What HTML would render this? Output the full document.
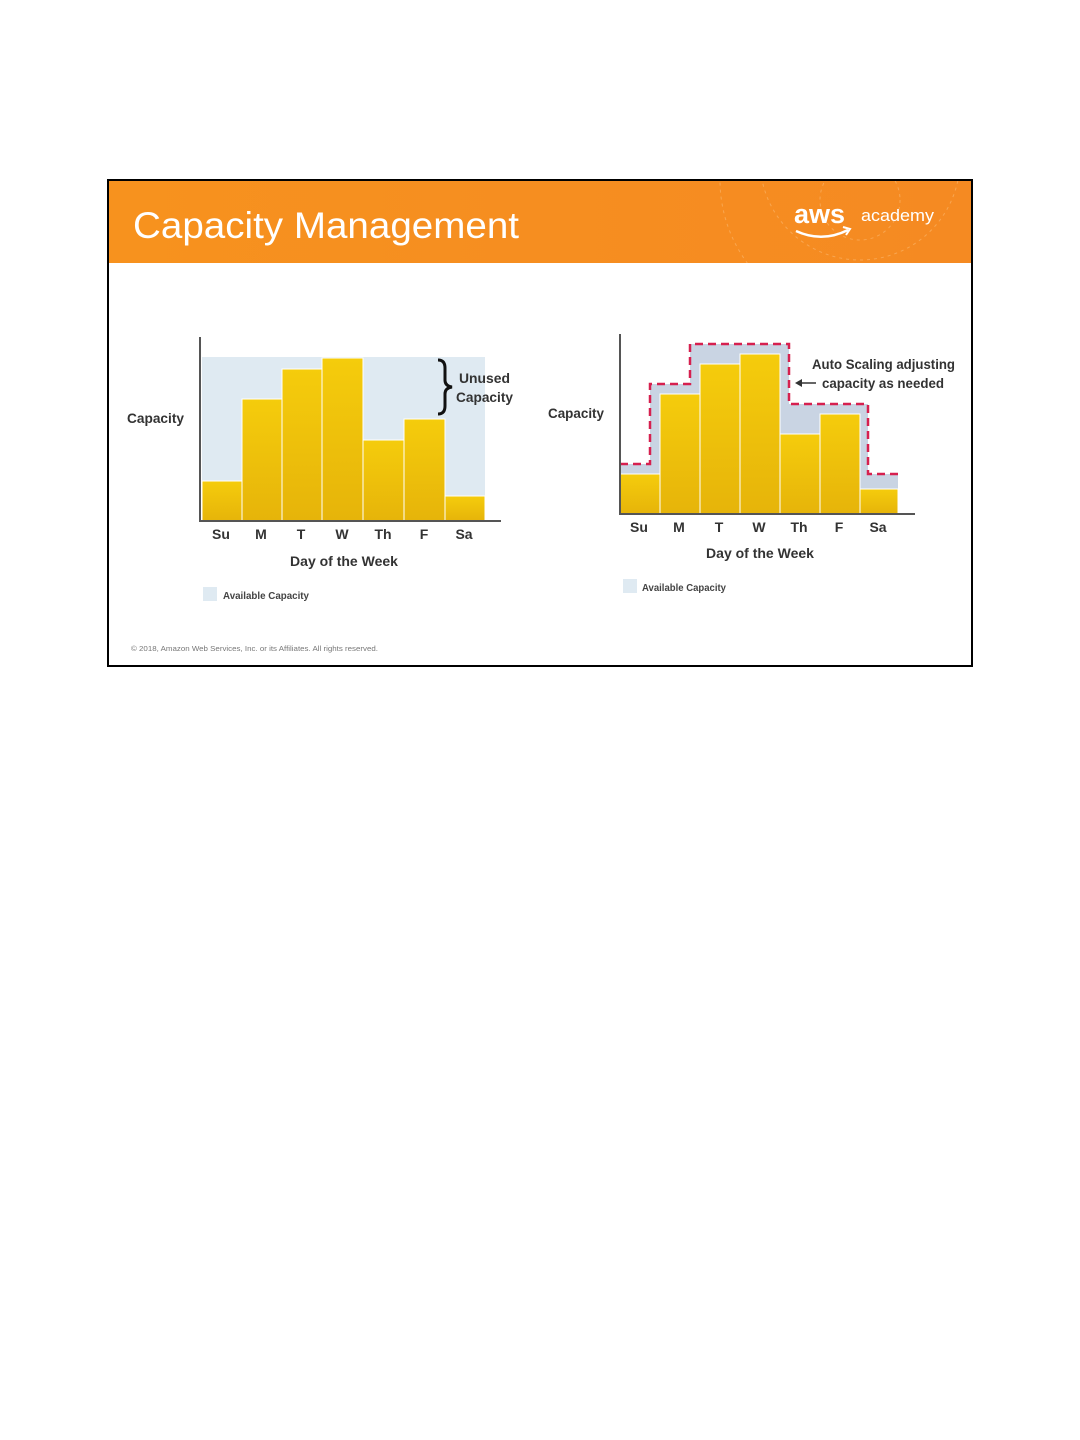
<!DOCTYPE html>
<html><head><meta charset="utf-8"><style>
body{margin:0;background:#fff;width:1080px;height:1440px;position:relative;font-family:"Liberation Sans",sans-serif;}
</style></head><body>
<svg width="1080" height="1440" xmlns="http://www.w3.org/2000/svg" style="position:absolute;left:0;top:0">
<defs>
<linearGradient id="hd" x1="0" x2="1" y1="0" y2="0"><stop offset="0" stop-color="#f7921e"/><stop offset="1" stop-color="#f58a22"/></linearGradient>
<linearGradient id="bar" x1="0" x2="0" y1="0" y2="1"><stop offset="0" stop-color="#f5cc0c"/><stop offset="1" stop-color="#e6b40a"/></linearGradient>
<clipPath id="hc"><rect x="109" y="181" width="862" height="82"/></clipPath>
</defs>
<rect x="108" y="180" width="864" height="486" fill="#fff" stroke="#000" stroke-width="2"/>
<rect x="109" y="181" width="862" height="82" fill="url(#hd)"/>
<g clip-path="url(#hc)" fill="none" stroke="#fbb870" stroke-width="1" stroke-dasharray="3,4" opacity="0.6">
<circle cx="860" cy="160" r="100"/><circle cx="860" cy="200" r="40"/><circle cx="860" cy="180" r="140"/>
</g>
<text x="133" y="238" font-size="37" fill="#fff" textLength="386" lengthAdjust="spacingAndGlyphs">Capacity Management</text>
<text x="794" y="223" font-size="27" fill="#fff" font-weight="bold">aws</text>
<path d="M796 231 Q822 243 848 230" stroke="#fff" stroke-width="2.5" fill="none"/>
<path d="M843 227 L850 229 L846 235" stroke="#fff" stroke-width="2" fill="none"/>
<text x="861" y="221" font-size="17" fill="#fff" textLength="73" lengthAdjust="spacingAndGlyphs">academy</text>

<!-- Left chart -->
<rect x="202" y="357" width="283" height="164" fill="#dfeaf2"/>
<g fill="url(#bar)" stroke="#fff" stroke-width="1">
<rect x="202" y="481" width="40" height="40"/>
<rect x="242" y="399" width="40" height="122"/>
<rect x="282" y="369" width="40" height="152"/>
<rect x="322" y="358" width="41" height="163"/>
<rect x="363" y="440" width="41" height="81"/>
<rect x="404" y="419" width="41" height="102"/>
<rect x="445" y="496" width="40" height="25"/>
</g>
<line x1="200" y1="337" x2="200" y2="522" stroke="#555" stroke-width="2"/>
<line x1="199" y1="521" x2="501" y2="521" stroke="#555" stroke-width="2"/>
<path d="M438 360 Q445 360 445 368 L445 380 Q445 386 452 387 Q445 388 445 394 L445 406 Q445 414 438 414" fill="none" stroke="#111" stroke-width="3"/>
<g font-size="14" font-weight="bold" fill="#333">
<text x="459" y="383" textLength="51" lengthAdjust="spacingAndGlyphs">Unused</text><text x="456" y="402" textLength="57" lengthAdjust="spacingAndGlyphs">Capacity</text>
<text x="127" y="423" textLength="57" lengthAdjust="spacingAndGlyphs">Capacity</text>
<g text-anchor="middle"><text x="221" y="539">Su</text><text x="261" y="539">M</text><text x="301" y="539">T</text><text x="342" y="539">W</text><text x="383" y="539">Th</text><text x="424" y="539">F</text><text x="464" y="539">Sa</text>
<text x="344" y="566">Day of the Week</text></g>
</g>
<rect x="203" y="587" width="14" height="14" fill="#dfeaf2"/>
<text x="223" y="599" font-size="10" font-weight="bold" fill="#444" textLength="86" lengthAdjust="spacingAndGlyphs">Available Capacity</text>

<!-- Right chart -->
<path d="M620 464 H650 V384 H690 V344 H789 V404 H868 V474 H898 V514 H620 Z" fill="#c9d4e3"/>
<g fill="url(#bar)" stroke="#fff" stroke-width="1">
<rect x="620" y="474" width="40" height="40"/>
<rect x="660" y="394" width="40" height="120"/>
<rect x="700" y="364" width="40" height="150"/>
<rect x="740" y="354" width="40" height="160"/>
<rect x="780" y="434" width="40" height="80"/>
<rect x="820" y="414" width="40" height="100"/>
<rect x="860" y="489" width="38" height="25"/>
</g>
<path d="M620 464 H650 V384 H690 V344 H789 V404 H868 V474 H898" fill="none" stroke="#d6204f" stroke-width="2.5" stroke-dasharray="8,5"/>
<line x1="620" y1="334" x2="620" y2="515" stroke="#555" stroke-width="2"/>
<line x1="619" y1="514" x2="915" y2="514" stroke="#555" stroke-width="2"/>
<g font-size="14" font-weight="bold" fill="#333">
<text x="812" y="369" textLength="143" lengthAdjust="spacingAndGlyphs">Auto Scaling adjusting</text><text x="822" y="388" textLength="122" lengthAdjust="spacingAndGlyphs">capacity as needed</text>
<text x="548" y="418" textLength="56" lengthAdjust="spacingAndGlyphs">Capacity</text>
<g text-anchor="middle"><text x="639" y="532">Su</text><text x="679" y="532">M</text><text x="719" y="532">T</text><text x="759" y="532">W</text><text x="799" y="532">Th</text><text x="839" y="532">F</text><text x="878" y="532">Sa</text>
<text x="760" y="558">Day of the Week</text></g>
</g>
<line x1="797" y1="383" x2="816" y2="383" stroke="#333" stroke-width="1.5"/>
<path d="M795 383 L802 379 L802 387 Z" fill="#333"/>
<rect x="623" y="579" width="14" height="14" fill="#dfeaf2"/>
<text x="642" y="591" font-size="10" font-weight="bold" fill="#444" textLength="84" lengthAdjust="spacingAndGlyphs">Available Capacity</text>

<text x="131" y="651" font-size="7.5" fill="#777" textLength="247" lengthAdjust="spacingAndGlyphs">© 2018, Amazon Web Services, Inc. or its Affiliates. All rights reserved.</text>
</svg>
</body></html>
